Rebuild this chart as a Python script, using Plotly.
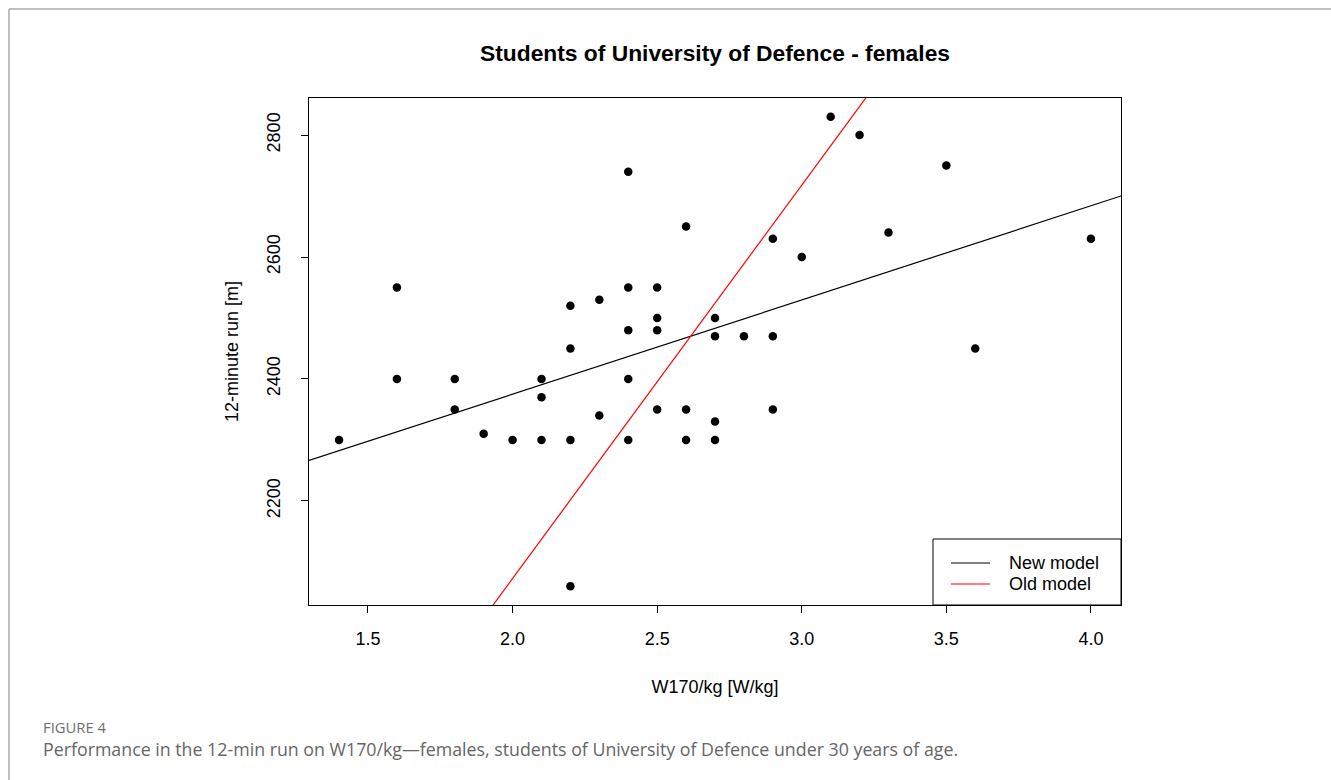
import plotly.graph_objects as go
import numpy as np

# ---- data ----
w170 = [1.4, 1.6, 1.6, 1.8, 1.8, 1.9, 2.0, 2.1, 2.1, 2.1,
        2.2, 2.2, 2.2, 2.2, 2.3, 2.3, 2.4, 2.4, 2.4, 2.4,
        2.4, 2.5, 2.5, 2.5, 2.5, 2.6, 2.6, 2.6, 2.7, 2.7,
        2.7, 2.7, 2.8, 2.9, 2.9, 2.9, 3.0, 3.1, 3.2, 3.3,
        3.5, 3.6, 4.0]
run12 = [2300, 2550, 2400, 2400, 2350, 2310, 2300, 2400, 2370, 2300,
         2520, 2450, 2300, 2060, 2530, 2340, 2740, 2550, 2480, 2400,
         2300, 2550, 2500, 2480, 2350, 2650, 2350, 2300, 2500, 2470,
         2330, 2300, 2470, 2630, 2470, 2350, 2600, 2830, 2800, 2640,
         2750, 2450, 2630]

model_names = ["New model", "Old model"]
model_intercepts = [2066.0, 782.0]
model_slopes = [154.5, 645.3]
model_colors = ["black", "red"]

x_ticks = [1.5, 2.0, 2.5, 3.0, 3.5, 4.0]
y_ticks = [2200, 2400, 2600, 2800]

# R-style axis ranges (data range extended by 4%)
xmin, xmax = min(w170), max(w170)
ymin, ymax = min(run12), max(run12)
xr = [xmin - 0.04 * (xmax - xmin), xmax + 0.04 * (xmax - xmin)]
yr = [ymin - 0.04 * (ymax - ymin), ymax + 0.04 * (ymax - ymin)]

W, H = 1331, 780
L, R, T, B = 309, 210, 98, 175
pw, ph = W - L - R, H - T - B

def px_x(p):
    return (p - L) / pw

def px_y(p):
    return (H - B - p) / ph

fig = go.Figure()

xs = np.array(xr)
for name, a, b, c in zip(model_names, model_intercepts, model_slopes, model_colors):
    fig.add_trace(go.Scatter(x=xs, y=a + b * xs, mode="lines", name=name,
                             line=dict(color=c, width=1.2), showlegend=False,
                             hoverinfo="skip"))

fig.add_trace(go.Scatter(x=w170, y=run12, mode="markers", name="data",
                         marker=dict(color="black", size=8.5), showlegend=False))

font = "Liberation Sans, Arial, sans-serif"

fig.update_layout(
    width=W, height=H,
    margin=dict(l=L, r=R, t=T, b=B, autoexpand=False),
    paper_bgcolor="white", plot_bgcolor="white",
    font=dict(family=font, size=18, color="black"),
    title=dict(text="<b>Students of University of Defence - females</b>",
               xref="container", x=715 / W, xanchor="center",
               yref="container", y=1 - 53 / H, yanchor="middle",
               font=dict(family=font, size=22.8, color="black")),
    xaxis=dict(range=xr, tickvals=x_ticks, ticktext=[f"{v:.1f}" for v in x_ticks],
               showgrid=False, zeroline=False, showline=True, mirror=True,
               linecolor="black", linewidth=1, ticks="outside", ticklen=7,
               tickcolor="black", tickwidth=1, ticklabelstandoff=10,
               title=dict(text="W170/kg [W/kg]", standoff=32,
                          font=dict(family=font, size=18))),
    yaxis=dict(range=yr, tickvals=y_ticks, ticktext=[str(v) for v in y_ticks],
               showgrid=False, zeroline=False, showline=True, mirror=True,
               linecolor="black", linewidth=1, ticks="outside", ticklen=7,
               tickcolor="black", tickwidth=1, tickangle=-90, ticklabelstandoff=14,
               title=dict(text="12-minute run [m]", standoff=20,
                          font=dict(family=font, size=18))),
)

shapes = []
# journal frame
shapes.append(dict(type="line", xref="paper", yref="paper",
                   x0=px_x(9), x1=px_x(W + 5), y0=px_y(9), y1=px_y(9),
                   line=dict(color="#aaaaaa", width=1.5)))
shapes.append(dict(type="line", xref="paper", yref="paper",
                   x0=px_x(9), x1=px_x(9), y0=px_y(9), y1=px_y(H + 5),
                   line=dict(color="#aaaaaa", width=1.5)))
# manual R-style legend
shapes.append(dict(type="rect", xref="paper", yref="paper",
                   x0=px_x(933), x1=px_x(1121), y0=px_y(605), y1=px_y(539),
                   line=dict(color="black", width=1), fillcolor="white", layer="above"))
annotations = []
for i, (name, c) in enumerate(zip(model_names, model_colors)):
    yy = 563 + 21 * i
    shapes.append(dict(type="line", xref="paper", yref="paper",
                       x0=px_x(951), x1=px_x(990), y0=px_y(yy), y1=px_y(yy),
                       line=dict(color=c, width=1.2), layer="above"))
    annotations.append(dict(text=name, xref="paper", yref="paper",
                            x=px_x(1007), y=px_y(yy), xanchor="left", yanchor="middle",
                            showarrow=False, font=dict(family=font, size=18, color="black")))

annotations.append(dict(text="FIGURE 4", xref="paper", yref="paper",
                        x=px_x(41), y=px_y(727), xanchor="left", yanchor="middle",
                        showarrow=False,
                        font=dict(family="Open Sans, sans-serif", size=14.8, color="#6e6e6e")))
annotations.append(dict(text="Performance in the 12-min run on W170/kg\u2014females, students of University of Defence under 30 years of age.",
                        xref="paper", yref="paper",
                        x=px_x(41), y=px_y(749), xanchor="left", yanchor="middle",
                        showarrow=False,
                        font=dict(family="Open Sans, sans-serif", size=17.8, color="#666666")))

fig.update_layout(shapes=shapes, annotations=annotations)

fig.write_html("out.html")
